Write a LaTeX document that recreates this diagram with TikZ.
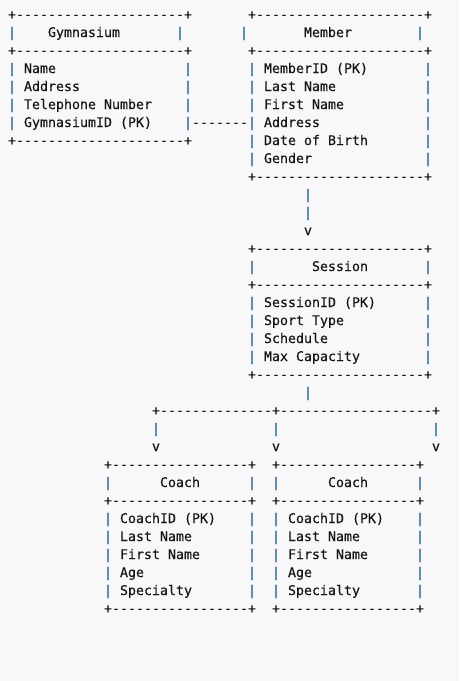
\documentclass[tikz,border=0pt]{standalone}
\usepackage{fontspec}
\newfontfamily\erfont{DejaVu Sans Mono}[FakeBold=0.3]
\definecolor{inkdark}{HTML}{141414}
\definecolor{pipeblue}{RGB}{25,95,180}
\definecolor{pagegray}{HTML}{F8F8F8}
\tikzset{
  ch/.style={font=\erfont\fontsize{13.29}{18}\selectfont, inner sep=0pt, outer sep=0pt, anchor=base west, text=inkdark},
  pipe/.style={ch, text=pipeblue},
}
% one border line: +----+
\newcommand\borderrow[4]{% name, row, from col, to col
  \pgfmathtruncatemacro\colfirst{#3+1}
  \pgfmathtruncatemacro\collast{#4-1}
  \node[ch] (#1-a) at (#3,#2) {+};
  \foreach \c in {\colfirst,...,\collast} \node[ch] (#1-\c) at (\c,#2) {-};
  \node[ch] (#1-b) at (#4,#2) {+};
}
% frame of a table: top, under the header, bottom, side bars
\newcommand\erframe[5]{% name, left, right, top, bottom
  \pgfmathtruncatemacro\rowmid{#4+2}
  \pgfmathtruncatemacro\rowfirst{#4+3}
  \pgfmathtruncatemacro\rowlast{#5-1}
  \borderrow{#1-top}{#4}{#2}{#3}
  \borderrow{#1-mid}{\rowmid}{#2}{#3}
  \borderrow{#1-bot}{#5}{#2}{#3}
  \foreach \r in {\rowfirst,...,\rowlast}{
    \node[pipe] (#1-l\r) at (#2,\r) {|};
    \node[pipe] (#1-r\r) at (#3,\r) {|};
  }
}
% header line: | Title |
\newcommand\erhead[6]{% name, row, left bar, title col, right bar, title
  \node[pipe] (#1-hl) at (#3,#2) {|};
  \node[ch] (#1-title) at (#4,#2) {#6};
  \node[pipe] (#1-hr) at (#5,#2) {|};
}
\begin{document}
\begin{tikzpicture}[x=8pt, y=-18pt]
  \fill[pagegray] (0,0) rectangle (57.375,37.8333);
  \begin{scope}[shift={(1,1.0556)}]
    % Gymnasium
    \erframe{gym}{0}{22}{0}{7}
    \erhead{gym}{1}{0}{5}{21}{Gymnasium}
    \foreach \f [count=\i from 3] in {Name, Address, Telephone Number, GymnasiumID (PK)}
      \node[ch] (gym-f\i) at (2,\i) {\f};
    % Member
    \erframe{mem}{30}{52}{0}{9}
    \erhead{mem}{1}{29}{37}{51}{Member}
    \foreach \f [count=\i from 3] in {MemberID (PK), Last Name, First Name, Address, Date of Birth, Gender}
      \node[ch] (mem-f\i) at (32,\i) {\f};
    % Session
    \erframe{ses}{30}{52}{13}{20}
    \erhead{ses}{14}{30}{38}{52}{Session}
    \foreach \f [count=\i from 16] in {SessionID (PK), Sport Type, Schedule, Max Capacity}
      \node[ch] (ses-f\i) at (32,\i) {\f};
    % Coaches
    \erframe{coa}{12}{30}{25}{33}
    \erhead{coa}{26}{12}{19}{30}{Coach}
    \erframe{cob}{33}{51}{25}{33}
    \erhead{cob}{26}{33}{40}{51}{Coach}
    \foreach \f [count=\i from 28] in {CoachID (PK), Last Name, First Name, Age, Specialty}{
      \node[ch] (coa-f\i) at (14,\i) {\f};
      \node[ch] (cob-f\i) at (35,\i) {\f};
    }
    % links
    \foreach \c in {23,...,29} \node[ch] (link-\c) at (\c,6) {-};
    \node[pipe] (ms-1) at (37,10) {|};
    \node[pipe] (ms-2) at (37,11) {|};
    \node[ch] (ms-v) at (37,12) {v};
    \node[pipe] (sc-0) at (37,21) {|};
    \foreach \c in {18,...,53}{
      \ifnum\c=18 \def\g{+}\else\ifnum\c=33 \def\g{+}\else\ifnum\c=53 \def\g{+}\else\def\g{-}\fi\fi\fi
      \node[ch] (fork-\c) at (\c,22) {\g};
    }
    \foreach \c in {18,33,53}{
      \node[pipe] (drop-\c) at (\c,23) {|};
      \node[ch] (tip-\c) at (\c,24) {v};
    }
  \end{scope}
\end{tikzpicture}
\end{document}
